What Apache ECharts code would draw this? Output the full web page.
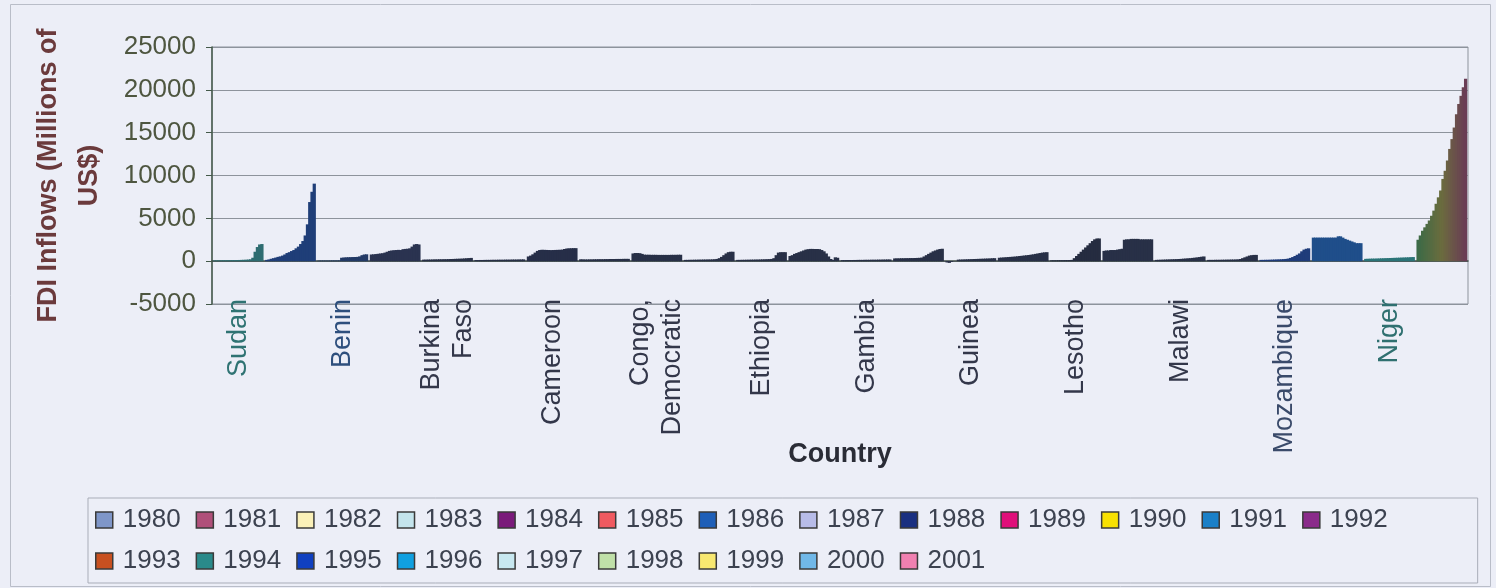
<!DOCTYPE html>
<html>
<head>
<meta charset="utf-8">
<title>FDI Inflows</title>
<script src="https://cdn.jsdelivr.net/npm/echarts@6/dist/echarts.min.js"></script>
<style>
  html, body { margin: 0; padding: 0; background: #eceef7; }
  #chart { width: 1496px; height: 588px; }
</style>
</head>
<body>
<div id="chart"></div>
<script>
// years are the series, countries the categories
const years = ["1980", "1981", "1982", "1983", "1984", "1985", "1986", "1987", "1988", "1989", "1990",
  "1991", "1992", "1993", "1994", "1995", "1996", "1997", "1998", "1999", "2000", "2001"];

const countries = ["Sudan", "Angola", "Benin", "Botswana", "Burkina\nFaso", "Burundi", "Cameroon", "Chad",
  "Congo,\nDemocratic", "Congo,\nRepublic", "Ethiopia", "Gabon", "Gambia", "Ghana", "Guinea", "Kenya",
  "Lesotho", "Madagascar", "Malawi", "Mali", "Mozambique", "Namibia", "Niger", "Nigeria"];

// FDI inflows, millions of US$, one value per year (1980..2001)
const sudan = [80, 80, 90, 90, 100, 100, 110, 110, 120, 120, 130, 140, 150, 160, 170, 190, 220, 400, 1100, 1650, 1950, 2000];
const angola = [150, 200, 280, 350, 420, 500, 560, 650, 780, 950, 1050, 1180, 1300, 1500, 1700, 2000, 2350, 3000, 4300, 6900, 8100, 9050];
const benin = [70, 70, 70, 70, 70, 70, 80, 80, 80, 90, 400, 430, 450, 460, 470, 480, 490, 500, 560, 700, 780, 800];
const botswana = [780, 800, 830, 860, 900, 930, 1000, 1100, 1200, 1250, 1280, 1300, 1320, 1300, 1400, 1430, 1450, 1500, 1700, 1950, 2000, 1950];
const burkinaFaso = [180, 180, 190, 190, 200, 210, 210, 220, 220, 230, 230, 240, 250, 260, 270, 280, 290, 300, 320, 340, 360, 380];
const burundi = [130, 130, 140, 140, 150, 150, 150, 160, 160, 160, 170, 170, 170, 180, 180, 180, 190, 190, 190, 200, 200, 210];
const cameroon = [550, 650, 800, 1000, 1200, 1300, 1330, 1320, 1310, 1300, 1290, 1300, 1310, 1320, 1330, 1350, 1420, 1480, 1500, 1510, 1520, 1520];
const chad = [220, 210, 200, 200, 210, 210, 220, 220, 230, 230, 230, 240, 240, 250, 250, 250, 260, 260, 260, 270, 270, 270];
const congoDem = [900, 950, 950, 930, 850, 760, 750, 750, 740, 740, 740, 730, 730, 730, 730, 730, 730, 740, 740, 740, 750, 750];
const congoRep = [150, 150, 160, 160, 170, 170, 180, 180, 190, 190, 200, 200, 210, 230, 260, 350, 500, 700, 900, 1050, 1100, 1100];
const ethiopia = [150, 150, 160, 160, 170, 170, 180, 180, 190, 190, 200, 210, 220, 230, 240, 260, 350, 700, 1000, 1050, 1050, 1050];
const gabon = [600, 700, 850, 950, 1050, 1150, 1250, 1350, 1400, 1430, 1430, 1420, 1420, 1400, 1300, 1150, 900, 550, 250, 150, 450, 400];
const gambia = [120, 120, 130, 130, 130, 140, 140, 150, 150, 150, 160, 160, 160, 170, 170, 170, 180, 180, 190, 190, 200, 200];
const ghana = [320, 330, 330, 340, 340, 350, 350, 360, 360, 370, 380, 390, 420, 550, 700, 850, 1000, 1150, 1250, 1350, 1420, 1450];
const guinea = [-150, -200, -100, 0, 0, 180, 190, 200, 210, 220, 230, 240, 250, 260, 270, 280, 290, 300, 310, 320, 340, 350];
const kenya = [400, 420, 440, 460, 480, 500, 520, 540, 570, 600, 630, 660, 690, 720, 760, 800, 850, 900, 950, 1000, 1030, 1050];
const lesotho = [100, 100, 100, 110, 110, 110, 120, 120, 130, 150, 350, 600, 850, 1100, 1350, 1600, 1850, 2100, 2350, 2550, 2650, 2650];
const madagascar = [1200, 1250, 1250, 1300, 1300, 1300, 1350, 1400, 1450, 2500, 2550, 2550, 2600, 2600, 2600, 2600, 2550, 2550, 2550, 2550, 2550, 2550];
const malawi = [150, 160, 170, 180, 190, 200, 210, 220, 230, 240, 250, 270, 290, 310, 330, 350, 380, 410, 440, 480, 520, 550];
const mali = [150, 150, 150, 160, 160, 160, 170, 170, 180, 180, 190, 190, 200, 210, 250, 350, 450, 550, 650, 700, 730, 730];
const mozambique = [150, 150, 160, 160, 170, 180, 190, 200, 210, 220, 240, 260, 300, 380, 480, 600, 750, 900, 1150, 1350, 1450, 1500];
const namibia = [2750, 2750, 2750, 2750, 2750, 2750, 2750, 2750, 2750, 2750, 2750, 2900, 2900, 2750, 2600, 2500, 2400, 2300, 2200, 2100, 2100, 2100];
const niger = [270, 280, 290, 300, 300, 310, 320, 330, 340, 350, 360, 370, 380, 390, 400, 410, 420, 430, 440, 450, 470, 480];
const nigeria = [2500, 3000, 3550, 3950, 4350, 4750, 5300, 5900, 6700, 7450, 8250, 9600, 10550, 11750, 13100, 14250, 15600, 17150, 18350, 19300, 20300, 21300];

const countryValues = [sudan, angola, benin, botswana, burkinaFaso, burundi, cameroon, chad, congoDem, congoRep,
  ethiopia, gabon, gambia, ghana, guinea, kenya, lesotho, madagascar, malawi, mali, mozambique, namibia, niger, nigeria];

// legend swatches
const legendColors = ["#7f96c8", "#b0507a", "#faf0b8", "#c4e4ec", "#7a1a7a", "#f05a60", "#1f5fb8", "#b8bce8",
  "#1a2f80", "#e0107a", "#f8e000", "#1a80c8", "#8a2a8a", "#c85020", "#2a8a8a", "#1040c0", "#10a0e0",
  "#c8e8f0", "#c0e0a8", "#f8e870", "#70b8e8", "#f080b0"];

// the bars look dark in the scan, tinted per country
const groupColors = ["#2e6c71", "#1f3e78", "#233a66", "#2a3350", "#283047", "#283047", "#262e48", "#283047",
  "#283047", "#283047", "#283047", "#283047", "#283047", "#283047", "#283047", "#283047",
  "#252c40", "#283047", "#283047", "#283047", "#1f3c7a", "#1f4e8a", "#2b7478", null];
const lastGroupShades = ["#3b6a47", "#6b6c3e", "#6a3d55"];

const labelColors = {
  "Sudan": "#2f7373",
  "Benin": "#2e4f7d",
  "Mozambique": "#3a4a6a",
  "Niger": "#2f7070",
};

function barColor(dataIndex, seriesIndex) {
  const c = groupColors[dataIndex];
  if (c) return c;
  return echarts.color.lerp(seriesIndex / (years.length - 1), lastGroupShades);
}

const FONT = "Liberation Sans, Arial, sans-serif";

const chart = echarts.init(document.getElementById("chart"));
chart.setOption({
  backgroundColor: "#eceef7",
  animation: false,
  graphic: [{
    type: "rect", left: 8, top: 2, silent: true,
    shape: { width: 1480, height: 582 },
    style: { fill: "none", stroke: "#b9bdc8", lineWidth: 1 },
  }],
  grid: {
    left: 212, right: 28, top: 47, bottom: 284,
    outerBoundsMode: "none",
    show: true, borderColor: "#8d939c", borderWidth: 1, backgroundColor: "transparent",
  },
  legend: {
    left: 88, top: 498, width: 1300,
    padding: [9, 90, 9, 7],
    borderColor: "#a9adb8", borderWidth: 1,
    itemGap: 15, itemWidth: 17, itemHeight: 16,
    selectedMode: false,
    icon: "rect",
    textStyle: { fontFamily: FONT, fontSize: 26, color: "#3c4250", lineHeight: 23, padding: [0, 0, 0, 5] },
    data: years.map((y, i) => ({
      name: y,
      itemStyle: { color: legendColors[i], borderColor: "#3a3a3a", borderWidth: 1.5 },
    })),
  },
  xAxis: {
    type: "category",
    data: countries,
    axisLine: { onZero: true, lineStyle: { color: "#3d4a44", width: 1.5 } },
    axisTick: { length: 6, lineStyle: { color: "#6a7070" } },
    axisLabel: {
      interval: 1, rotate: 90, margin: -5,
      fontFamily: FONT, fontSize: 27, lineHeight: 32,
      color: (value) => labelColors[value] || "#33374a",
    },
    name: "Country",
    nameLocation: "middle",
    nameGap: 137,
    nameMoveOverlap: false,
    nameTextStyle: { fontFamily: FONT, fontSize: 27, fontWeight: "bold", color: "#2a2c36" },
  },
  yAxis: {
    type: "value",
    min: -5000, max: 25000, interval: 5000,
    axisLine: { show: true, lineStyle: { color: "#44594a", width: 1.5 } },
    axisTick: { show: true, length: 6, lineStyle: { color: "#44594a" } },
    splitLine: { lineStyle: { color: "#8d939c" } },
    axisLabel: { fontFamily: FONT, fontSize: 26, color: "#4e5640", margin: 16, formatter: (v) => String(v) },
    name: "FDI Inflows (Millions of\nUS$)",
    nameLocation: "middle",
    nameGap: 102,
    nameMoveOverlap: false,
    nameTextStyle: { fontFamily: FONT, fontSize: 27, fontWeight: "bold", color: "#6b3a3c", lineHeight: 41 },
  },
  series: years.map((y, s) => ({
    name: y,
    type: "bar",
    barGap: "-30%",
    barCategoryGap: "3%",
    data: countryValues.map((vals) => vals[s]),
    itemStyle: { color: (p) => barColor(p.dataIndex, s) },
  })),
});
</script>
</body>
</html>
